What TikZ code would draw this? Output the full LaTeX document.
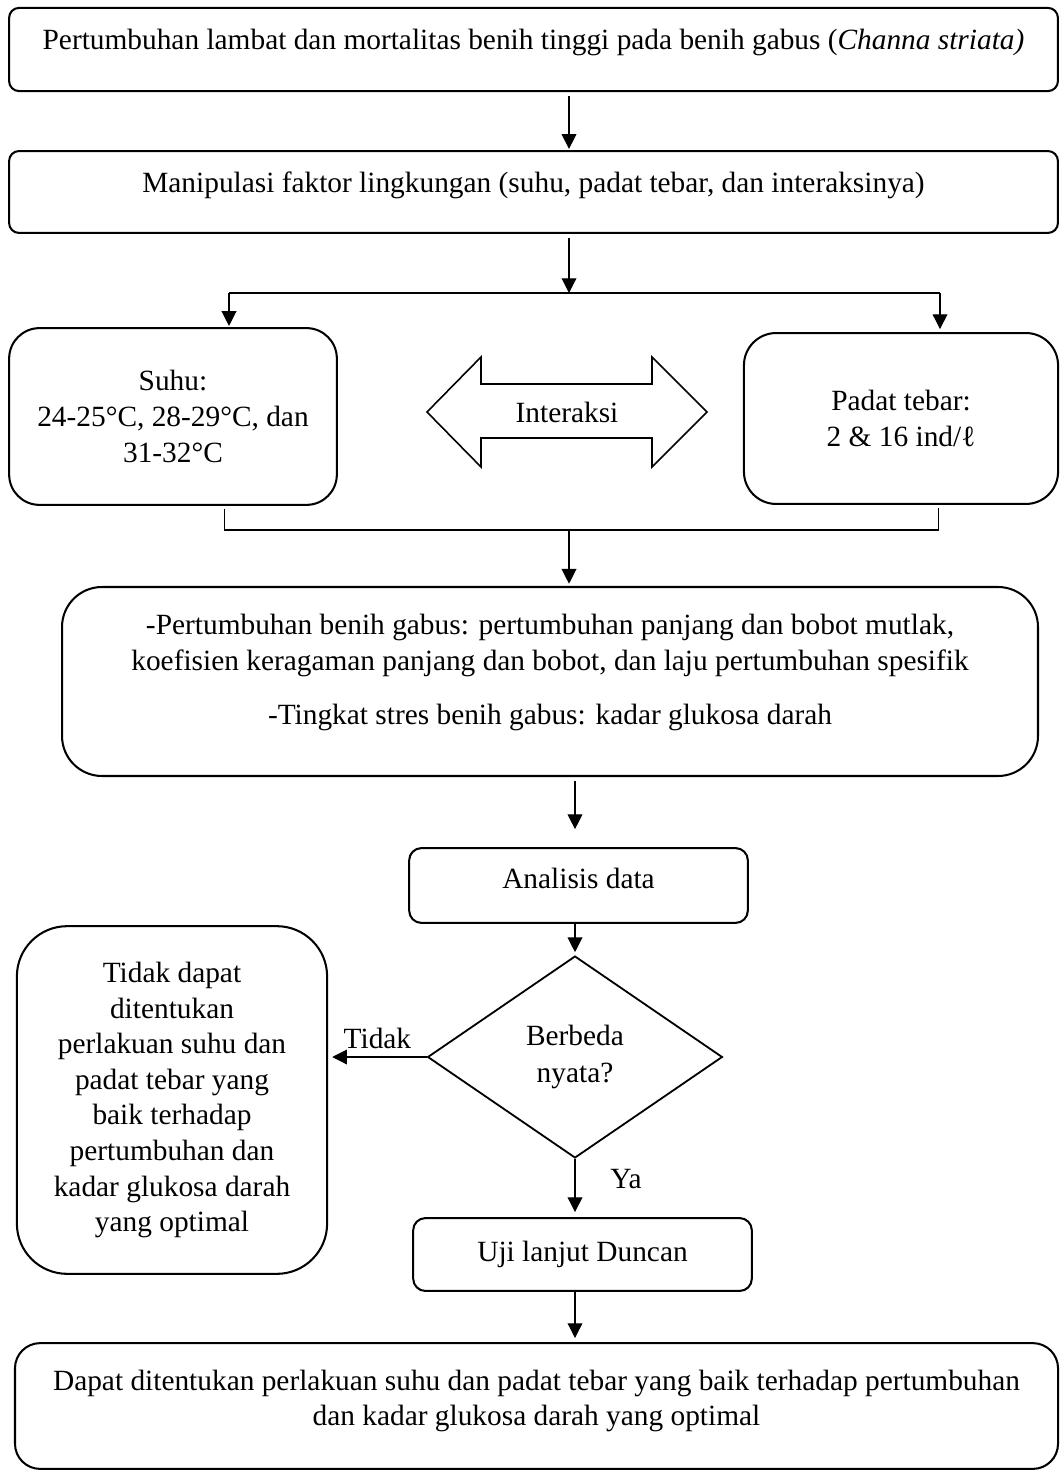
\documentclass[tikz,border=0pt]{standalone}
\usepackage{fontspec}
\setmainfont{Liberation Serif}
\usetikzlibrary{positioning,arrows.meta,shapes.geometric}

\begin{document}
\begin{tikzpicture}[x=0.0155cm,y=-0.0155cm,
  font=\fontsize{12.95}{15.7}\selectfont,
  box/.style={draw,line width=0.9pt,align=center,inner sep=0pt},
  arr/.style={line width=0.5pt,-{Triangle[length=6.5pt,width=6.5pt]}},
  link/.style={line width=0.5pt}]
\useasboundingbox (0,0) rectangle (1060,1472);

% kotak-kotak alur
\node[box,rounded corners=0.155cm,minimum width=16.26cm,minimum height=1.29cm,text height=9pt,text depth=8.6pt] (masalah) at (533.5,49.5) {Pertumbuhan lambat dan mortalitas benih tinggi pada benih gabus (\textit{Channa striata)}};
\node[box,rounded corners=0.155cm,minimum width=16.26cm,minimum height=1.27cm,text height=9pt,text depth=8.6pt] (manipulasi) at (533.5,192) {Manipulasi faktor lingkungan (suhu, padat tebar, dan interaksinya)};
\node[box,rounded corners=0.47cm,minimum width=5.08cm,minimum height=2.74cm] (suhu) at (173,416.5) {Suhu:\\24-25°C, 28-29°C, dan\\31-32°C};
\node[box,rounded corners=0.5cm,minimum width=4.87cm,minimum height=2.65cm] (padat) at (901,418.5) {Padat tebar:\\2 \& 16 ind/ℓ};
\node (interaksi) at (567,412) {Interaksi};
\draw[line width=0.7pt] (427,412) -- (481,357) -- (481,384) -- (652,384) -- (652,357) -- (707,412)
  -- (652,467) -- (652,438) -- (481,438) -- (481,467) -- cycle;
\node[box,rounded corners=0.62cm,minimum width=15.13cm,minimum height=2.93cm,text depth=10.8pt] (hasil) at (550,681.5) {-Pertumbuhan benih gabus: pertumbuhan panjang dan bobot mutlak,\\koefisien keragaman panjang dan bobot, dan laju pertumbuhan spesifik\\[8.3pt]-Tingkat stres benih gabus: kadar glukosa darah};
\node[box,rounded corners=0.19cm,minimum width=5.25cm,minimum height=1.16cm,text height=9pt,text depth=6.8pt] (analisis) at (578.5,885.5) {Analisis data};
\node[box,diamond,line width=0.8pt,minimum width=4.57cm,minimum height=3.13cm] (beda) at (575,1057) {Berbeda\\[1pt]nyata?};
\node[box,rounded corners=0.78cm,minimum width=4.81cm,minimum height=5.39cm] (tidak) at (172,1100) {Tidak dapat\\ditentukan\\perlakuan suhu dan\\padat tebar yang\\baik terhadap\\pertumbuhan dan\\kadar glukosa darah\\yang optimal};
\node[box,rounded corners=0.19cm,minimum width=5.25cm,minimum height=1.13cm] (uji) at (582.5,1254.5) {Uji lanjut Duncan};
\node[box,rounded corners=0.39cm,minimum width=16.17cm,minimum height=1.95cm,text depth=7.2pt] (akhir) at (536.5,1406) {Dapat ditentukan perlakuan suhu dan padat tebar yang baik terhadap pertumbuhan\\dan kadar glukosa darah yang optimal};

% titik cabang
\coordinate (pisah) at (569,293);
\coordinate (pisahL) at (229,293);
\coordinate (pisahR) at (940,293);
\coordinate (gabungL) at (224.5,530);
\coordinate (gabungR) at (938.5,530);
\coordinate (gabung) at (569,530);

% panah
\draw[arr,shorten <=1.8pt,shorten >=0.5pt] (masalah.south -| pisah) -- (manipulasi.north -| pisah);
\draw[arr,shorten <=1.8pt] (manipulasi.south -| pisah) -- (pisah);
\draw[link] (pisahL) -- (pisahR);
\draw[arr,shorten >=0.5pt] (pisahL) -- (pisahL |- suhu.north);
\draw[arr,shorten >=1.3pt] (pisahR) -- (pisahR |- padat.north);
\draw[link,shorten <=1.3pt,shorten >=1.3pt] (suhu.south -| gabungL) -- (gabungL) -- (gabungR) -- (padat.south -| gabungR);
\draw[arr,shorten >=1pt] (gabung) -- (hasil.north -| gabung);
\draw[arr,shorten <=1.8pt,shorten >=7.9pt] (hasil.south -| beda) -- (analisis.north -| beda);
\draw[arr,shorten >=1.3pt] (analisis.south -| beda) -- (beda.north);
\draw[arr,shorten >=1.8pt] (beda.west) -- (beda.west -| tidak.east) node[midway,above] {Tidak};
\draw[arr,shorten >=2.2pt] (beda.south) -- (uji.north -| beda) node[pos=0.35,right=12pt] {Ya};
\draw[arr,shorten >=1.8pt] (uji.south -| beda) -- (akhir.north -| beda);
\end{tikzpicture}
\end{document}
